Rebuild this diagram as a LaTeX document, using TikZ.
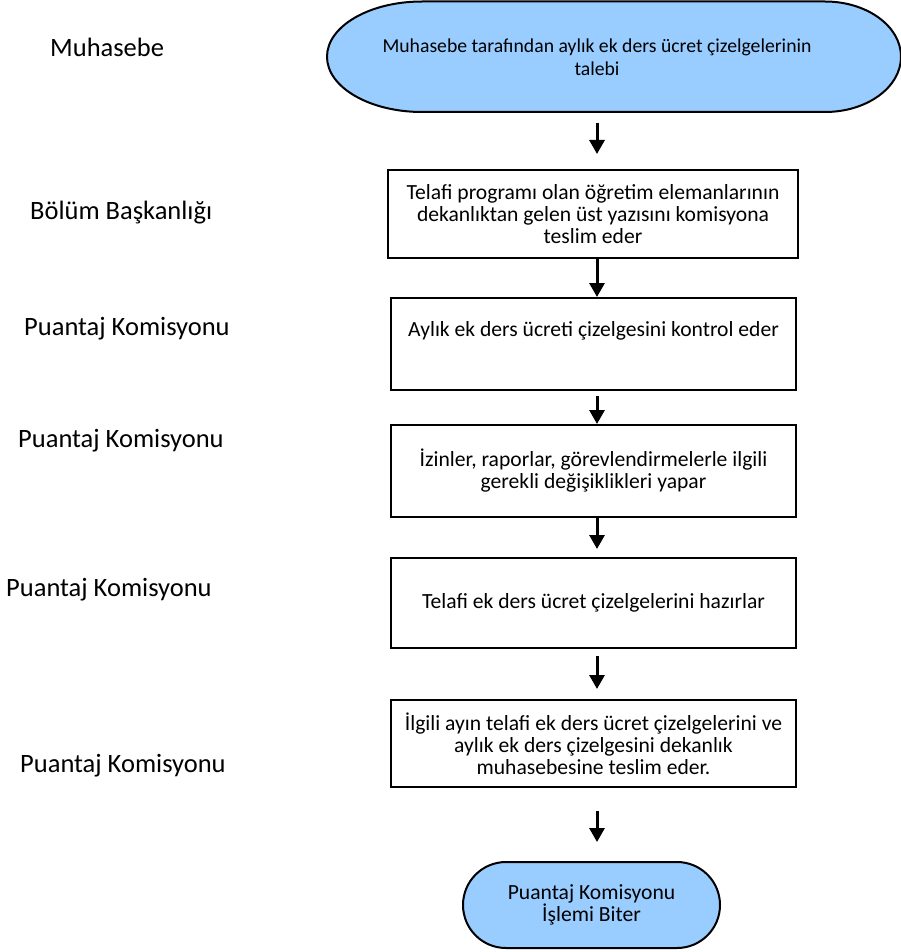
\documentclass[tikz,border=0pt]{standalone}
\usepackage{fontspec}
\setmainfont{Carlito}
\usetikzlibrary{arrows.meta}
\definecolor{termblue}{HTML}{99CCFF}
\tikzset{
  stepbox/.style={draw=black, line width=2pt, fill=white, align=center,
    minimum width=405pt, font=\fontsize{21.6}{22}\selectfont, inner sep=4pt},
  lanelabel/.style={anchor=west, font=\fontsize{26.5}{28}\selectfont, inner sep=0pt},
  flowarrow/.style={line width=3pt, -{Triangle[width=15pt,length=14pt]}},
  termtext/.style={align=center, font=\fontsize{19.7}{23}\selectfont},
}
\begin{document}
\begin{tikzpicture}[x=1pt,y=-1pt]
\useasboundingbox (0,0) rectangle (900,952);
% top terminator shape
\draw[line width=2pt, fill=termblue]
  (422,1.5) -- (825,1.5) arc[start angle=90, end angle=-90, x radius=76pt, y radius=55.25pt]
  -- (422,112) arc[start angle=270, end angle=90, x radius=95pt, y radius=55.25pt] -- cycle;
\node[termtext, minimum height=111pt, inner sep=0pt] (t1) at (597,57) {Muhasebe tarafından aylık ek ders ücret çizelgelerinin\\talebi};

\node[stepbox, minimum width=410pt, minimum height=88pt] (b2) at (593,214) {Telafi programı olan öğretim elemanlarının\\dekanlıktan gelen üst yazısını komisyona\\teslim eder};
\node[stepbox, minimum height=92pt] (b3) at (593.5,344) {Aylık ek ders ücreti çizelgesini kontrol eder\\[2pt]\strut};
\node[stepbox, minimum height=92pt] (b4) at (593.5,471) {İzinler, raporlar, görevlendirmelerle ilgili\\gerekli değişiklikleri yapar};
\node[stepbox, minimum height=90pt] (b5) at (593.5,603) {Telafi ek ders ücret çizelgelerini hazırlar};
\node[stepbox, minimum height=87pt] (b6) at (593.5,743.5) {İlgili ayın telafi ek ders ücret çizelgelerini ve\\aylık ek ders çizelgesini dekanlık\\muhasebesine teslim eder.};

\node[draw=black, line width=2pt, fill=termblue, rounded corners=43pt,
  minimum width=257pt, minimum height=86pt, align=center,
  font=\fontsize{21.6}{22}\selectfont] (t2) at (591.5,905) {Puantaj Komisyonu\\İşlemi Biter};

% lane labels
\node[lanelabel] (l1) at (50,47) {Muhasebe};
\node[lanelabel] (l2) at (30,213) {Bölüm Başkanlığı};
\node[lanelabel] (l3) at (24,329) {Puantaj Komisyonu};
\node[lanelabel] (l4) at (18,441) {Puantaj Komisyonu};
\node[lanelabel] (l5) at (6,590) {Puantaj Komisyonu};
\node[lanelabel] (l6) at (20,766) {Puantaj Komisyonu};

% arrows
\draw[flowarrow, shorten <=10pt, shorten >=15pt] (t1.south) -- (t1.south |- b2.north);
\draw[flowarrow, shorten <=0pt, shorten >=0pt] (t1.south |- b2.south) -- (t1.south |- b3.north);
\draw[flowarrow, shorten <=5pt, shorten >=0pt] (t1.south |- b3.south) -- (t1.south |- b4.north);
\draw[flowarrow, shorten <=0pt, shorten >=8pt] (t1.south |- b4.south) -- (t1.south |- b5.north);
\draw[flowarrow, shorten <=7pt, shorten >=10pt] (t1.south |- b5.south) -- (t1.south |- b6.north);
\draw[flowarrow, shorten <=23pt, shorten >=19pt] (t1.south |- b6.south) -- (t1.south |- t2.north);
\end{tikzpicture}
\end{document}
